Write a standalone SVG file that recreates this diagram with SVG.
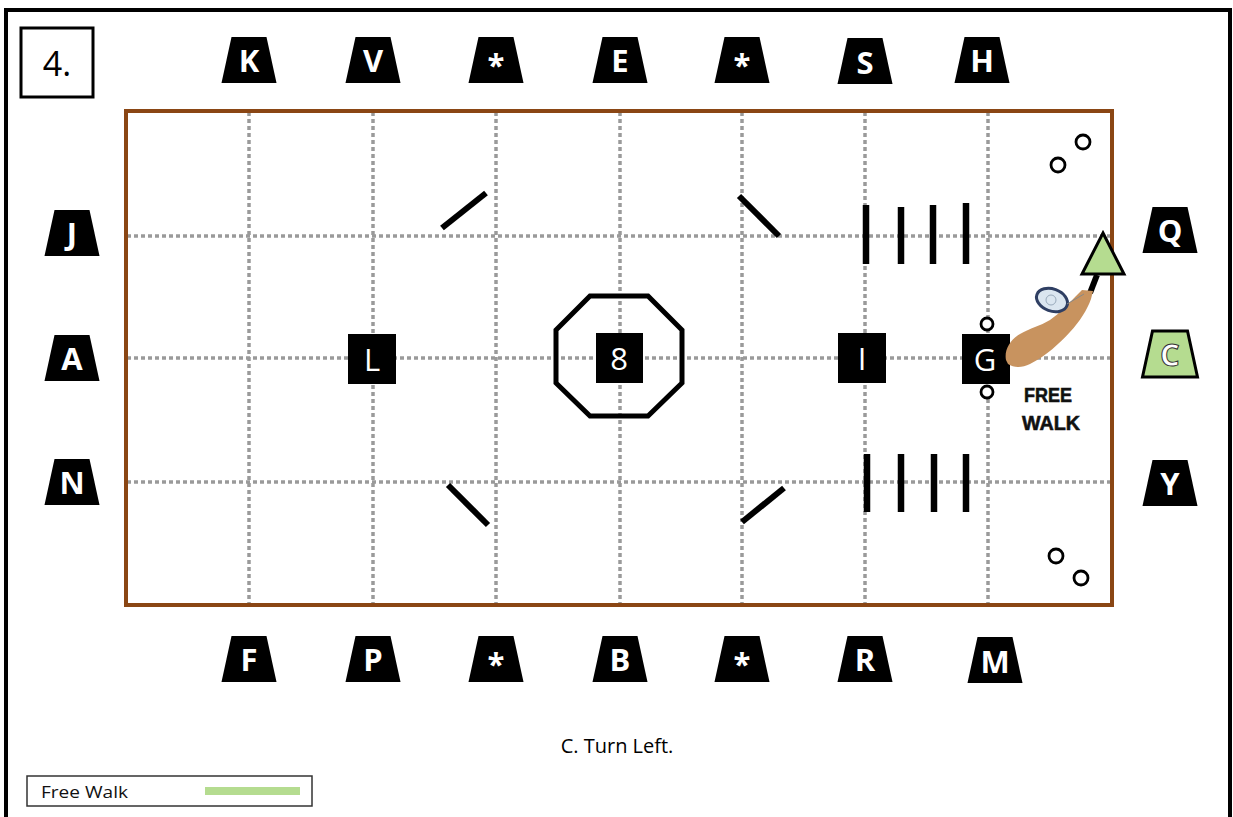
<svg xmlns="http://www.w3.org/2000/svg" width="1233" height="817" viewBox="0 0 1233 817">
  <style>
    .grid { stroke: #9a9a9a; stroke-width: 3.5; stroke-dasharray: 4 3; fill: none; }
    .sign { fill: #000; }
    .sign-txt { fill: #fff; font-family: "Open Sans", "Liberation Sans", sans-serif; font-weight: bold; font-size: 31px; text-anchor: middle; }
    .mark { fill: #000; }
    .mark-txt { fill: #fff; font-family: "Open Sans", "Liberation Sans", sans-serif; font-size: 31px; text-anchor: middle; }
    .pole { stroke: #000; stroke-width: 6.5; fill: none; }
    .diag { stroke: #000; stroke-width: 6; stroke-linecap: butt; fill: none; }
    .cone { fill: #fff; stroke: #000; stroke-width: 2.8; }
  </style>
  <defs>
    <!-- trapezoid arena letter board, centred on origin -->
    <path id="board" d="M-17.5,-23 L17.5,-23 L27.5,23 L-27.5,23 Z"/>
  </defs>

  <rect width="1233" height="817" fill="#fff"/>

  <!-- outer frame -->
  <path d="M6,817 L6,10 L1230,10 L1230,817" fill="none" stroke="#000" stroke-width="4"/>

  <!-- test number -->
  <g id="test-number">
    <rect x="21" y="28" width="72" height="69" fill="#fff" stroke="#000" stroke-width="3"/>
    <text x="57" y="76" font-family="Open Sans, Liberation Sans, sans-serif" font-size="34" text-anchor="middle">4.</text>
  </g>

  <!-- arena grid -->
  <g id="grid">
    <line class="grid" x1="249" y1="112" x2="249" y2="603"/>
    <line class="grid" x1="373" y1="112" x2="373" y2="603"/>
    <line class="grid" x1="496" y1="112" x2="496" y2="603"/>
    <line class="grid" x1="620" y1="112" x2="620" y2="603"/>
    <line class="grid" x1="742" y1="112" x2="742" y2="603"/>
    <line class="grid" x1="865" y1="112" x2="865" y2="603"/>
    <line class="grid" x1="988" y1="112" x2="988" y2="603"/>
    <line class="grid" x1="127" y1="236" x2="1110" y2="236"/>
    <line class="grid" x1="127" y1="358" x2="1110" y2="358"/>
    <line class="grid" x1="127" y1="482" x2="1110" y2="482"/>
  </g>

  <!-- arena fence -->
  <rect id="arena" x="126" y="111" width="986" height="494" fill="none" stroke="#8a4614" stroke-width="4"/>

  <!-- letter boards, top -->
  <g id="letter-K"><use href="#board" x="249" y="60" class="sign"/><text class="sign-txt" x="249" y="72">K</text></g>
  <g id="letter-V"><use href="#board" x="373" y="60" class="sign"/><text class="sign-txt" x="373" y="72">V</text></g>
  <g id="letter-star-1"><use href="#board" x="496" y="60" class="sign"/><text class="sign-txt" x="496" y="76">*</text></g>
  <g id="letter-E"><use href="#board" x="620" y="60" class="sign"/><text class="sign-txt" x="620" y="72">E</text></g>
  <g id="letter-star-2"><use href="#board" x="742" y="60" class="sign"/><text class="sign-txt" x="742" y="76">*</text></g>
  <g id="letter-S"><use href="#board" x="865" y="61" class="sign"/><text class="sign-txt" x="865" y="74">S</text></g>
  <g id="letter-H"><use href="#board" x="982" y="60" class="sign"/><text class="sign-txt" x="982" y="72">H</text></g>

  <!-- letter boards, bottom -->
  <g id="letter-F"><use href="#board" x="249" y="659" class="sign"/><text class="sign-txt" x="249" y="671">F</text></g>
  <g id="letter-P"><use href="#board" x="373" y="659" class="sign"/><text class="sign-txt" x="373" y="671">P</text></g>
  <g id="letter-star-3"><use href="#board" x="496" y="659" class="sign"/><text class="sign-txt" x="496" y="675">*</text></g>
  <g id="letter-B"><use href="#board" x="620" y="659" class="sign"/><text class="sign-txt" x="620" y="671">B</text></g>
  <g id="letter-star-4"><use href="#board" x="742" y="659" class="sign"/><text class="sign-txt" x="742" y="675">*</text></g>
  <g id="letter-R"><use href="#board" x="865" y="659" class="sign"/><text class="sign-txt" x="865" y="671">R</text></g>
  <g id="letter-M"><use href="#board" x="995" y="660" class="sign"/><text class="sign-txt" x="995" y="673">M</text></g>

  <!-- letter boards, left -->
  <g id="letter-J"><use href="#board" x="72" y="233" class="sign"/><text class="sign-txt" x="72" y="245">J</text></g>
  <g id="letter-A"><use href="#board" x="72" y="358" class="sign"/><text class="sign-txt" x="72" y="370">A</text></g>
  <g id="letter-N"><use href="#board" x="72" y="482" class="sign"/><text class="sign-txt" x="72" y="494">N</text></g>

  <!-- letter boards, right -->
  <g id="letter-Q"><use href="#board" x="1170" y="230" class="sign"/><text class="sign-txt" x="1170" y="242">Q</text></g>
  <g id="letter-C"><use href="#board" x="1170" y="354" fill="#b5dc90" stroke="#000" stroke-width="3"/><text class="sign-txt" x="1170" y="366" stroke="#333" stroke-width="1" font-weight="normal">C</text></g>
  <g id="letter-Y"><use href="#board" x="1170" y="483" class="sign"/><text class="sign-txt" x="1170" y="495">Y</text></g>

  <!-- centre octagon -->
  <g id="octagon">
    <path d="M590,296 L648,296 L682,330 L682,383 L648,416 L590,416 L556,383 L556,330 Z" fill="none" stroke="#000" stroke-width="5"/>
  </g>

  <!-- markers -->
  <g id="marker-L"><rect class="mark" x="348" y="334" width="48" height="50"/><text class="mark-txt" x="372" y="371">L</text></g>
  <g id="marker-8"><rect class="mark" x="596" y="333" width="47" height="50"/><text class="mark-txt" x="619" y="370">8</text></g>
  <g id="marker-I"><rect class="mark" x="838" y="333" width="48" height="50"/><text class="mark-txt" x="862" y="370">I</text></g>
  <g id="marker-G"><rect class="mark" x="962" y="334" width="48" height="50"/><text class="mark-txt" x="985" y="371">G</text></g>

  <!-- diagonal rails -->
  <g id="rails">
    <line class="diag" x1="442" y1="228" x2="486" y2="193"/>
    <line class="diag" x1="739" y1="196" x2="779" y2="236"/>
    <line class="diag" x1="448" y1="485" x2="488" y2="525"/>
    <line class="diag" x1="742" y1="522" x2="784" y2="488"/>
  </g>

  <!-- ground poles -->
  <g id="poles-top">
    <line class="pole" x1="866" y1="205" x2="866" y2="264"/>
    <line class="pole" x1="901" y1="207" x2="901" y2="264"/>
    <line class="pole" x1="933" y1="205" x2="933" y2="264"/>
    <line class="pole" x1="966" y1="203" x2="966" y2="264"/>
  </g>
  <g id="poles-bottom">
    <line class="pole" x1="867" y1="454" x2="867" y2="512"/>
    <line class="pole" x1="901" y1="454" x2="901" y2="512"/>
    <line class="pole" x1="934" y1="454" x2="934" y2="512"/>
    <line class="pole" x1="966" y1="454" x2="966" y2="512"/>
  </g>

  <!-- cones -->
  <g id="cones">
    <circle class="cone" cx="1083" cy="142" r="7"/>
    <circle class="cone" cx="1058" cy="165" r="7"/>
    <circle class="cone" cx="1056" cy="556" r="7"/>
    <circle class="cone" cx="1081" cy="578" r="7"/>
    <circle class="cone" cx="987" cy="324" r="6"/>
    <circle class="cone" cx="987" cy="392" r="6"/>
  </g>

  <!-- horse and rider -->
  <g id="horse">
    <line x1="1097" y1="275" x2="1090" y2="293" stroke="#000" stroke-width="6"/>
    <path d="M1006,360 C1004,350 1010,340 1020,334 C1030,328 1040,326 1050,320 C1060,313 1068,304 1076,296 L1082,290 L1093,291 L1091,299 C1087,310 1080,321 1070,332 C1060,343 1046,356 1030,364 C1022,368 1014,368 1008,364 Z" fill="#c8935f"/>
    <ellipse cx="1052" cy="300" rx="16" ry="11" transform="rotate(20 1052 300)" fill="#dbe6f0" stroke="#2f3f63" stroke-width="3"/>
    <circle cx="1051" cy="300" r="5" fill="none" stroke="#9ab" stroke-width="1"/>
    <line x1="1067" y1="304" x2="1084" y2="294" stroke="#888" stroke-width="1"/>
  </g>

  <!-- direction marker -->
  <g id="triangle">
    <path d="M1103,233 L1124,274 L1082,274 Z" fill="#b5dc90" stroke="#000" stroke-width="3" stroke-linejoin="miter"/>
  </g>

  <g id="free-walk-label" font-family="Liberation Sans, Arial, sans-serif" font-weight="bold" font-size="21" fill="#111" text-anchor="middle" stroke="#111" stroke-width="0.6">
    <text x="1048" y="402" textLength="48" lengthAdjust="spacingAndGlyphs">FREE</text>
    <text x="1051" y="430" textLength="58" lengthAdjust="spacingAndGlyphs">WALK</text>
  </g>

  <!-- caption -->
  <text id="caption" x="617" y="753" font-family="Open Sans, Liberation Sans, sans-serif" font-size="20" text-anchor="middle">C. Turn Left.</text>

  <!-- legend -->
  <g id="legend">
    <rect x="27" y="776" width="285" height="30" fill="#fff" stroke="#333" stroke-width="1.5"/>
    <text x="41" y="798" font-family="Open Sans, Liberation Sans, sans-serif" font-size="17" fill="#111" textLength="87" lengthAdjust="spacingAndGlyphs">Free Walk</text>
    <line x1="205" y1="791" x2="300" y2="791" stroke="#b5dc90" stroke-width="8"/>
  </g>
</svg>
